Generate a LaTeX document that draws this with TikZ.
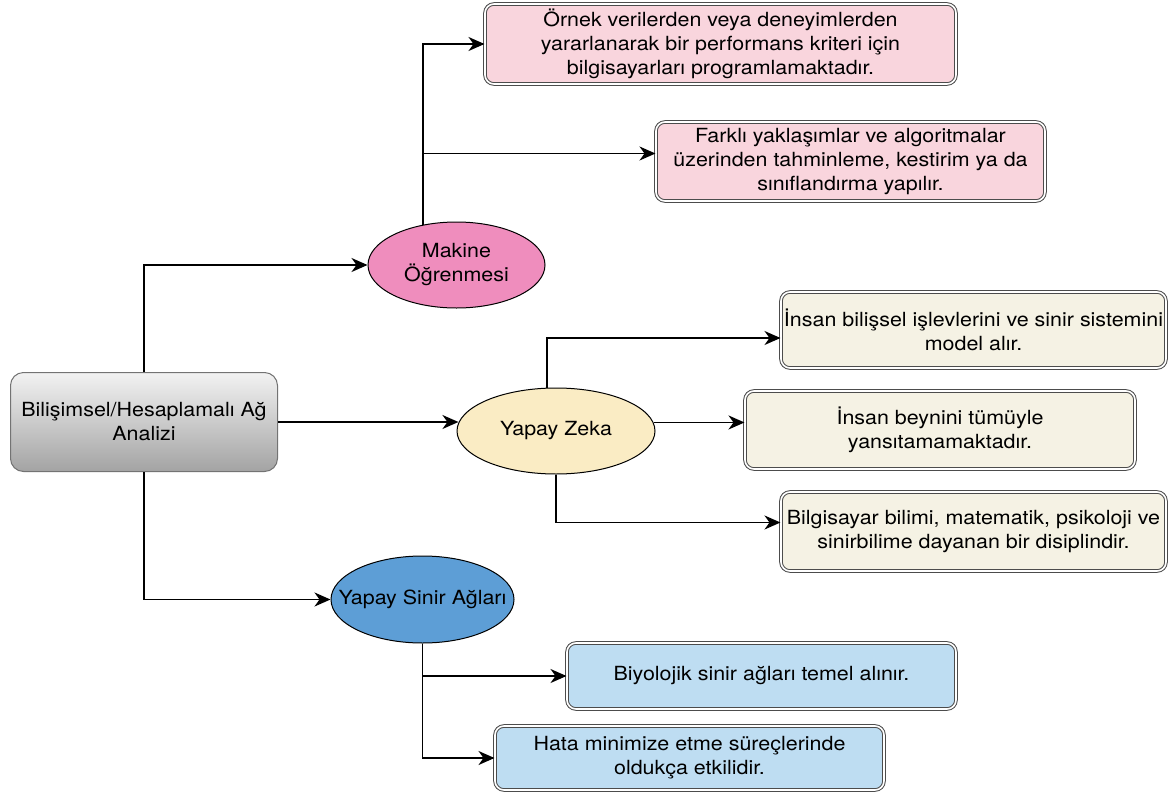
\documentclass[tikz,border=0pt]{standalone}
\usepackage{fontspec}
\setmainfont{TeX Gyre Heros}[FakeStretch=1.1]
\usetikzlibrary{arrows.meta,shapes.geometric}
\definecolor{pinkbox}{RGB}{249,213,221}
\definecolor{mkfill}{RGB}{239,141,189}
\definecolor{yzfill}{RGB}{250,236,196}
\definecolor{beige}{RGB}{245,242,228}
\definecolor{ysafill}{RGB}{93,158,214}
\definecolor{bluebox}{RGB}{190,221,242}
\newcommand\diagfs{\fontsize{19.5}{24}\selectfont}
\tikzset{
  box/.style={rectangle, rounded corners=9pt, draw=black!70, double=white,
    double distance=1.6pt, line width=1pt, align=center, inner sep=0pt, font=\diagfs},
  ell/.style={ellipse, draw=black, line width=1pt, align=center, inner sep=0pt, font=\diagfs},
  arr/.style={-{Stealth[length=16pt,width=14pt,inset=5pt]}, line width=1.6pt},
  con/.style={line width=1.6pt}
}
\begin{document}
\begin{tikzpicture}[x=1pt,y=-1pt]
\useasboundingbox (0,0) rectangle (1170,798);
% root
\node[rectangle, rounded corners=13pt, draw=black!55, line width=1pt,
  top color=black!5, bottom color=black!36, align=center, inner sep=0pt,
  font=\diagfs, minimum width=267pt, minimum height=99pt] (g) at (144,422)
  {Bilişimsel/Hesaplamalı Ağ\\Analizi};
% ellipses
\node[ell, fill=mkfill, minimum width=177pt, minimum height=86pt] (mk) at (456.5,265) {Makine\\Öğrenmesi};
\node[ell, fill=yzfill, minimum width=198pt, minimum height=86pt] (yz) at (556,431) {Yapay Zeka};
\node[ell, fill=ysafill, inner xsep=-30pt, minimum width=183pt, minimum height=87pt] (ysa) at (422.5,599.5) {Yapay Sinir Ağları};
% boxes
\node[box, fill=pinkbox, minimum width=471pt, minimum height=80pt] (p1) at (720.5,44)
  {Örnek verilerden veya deneyimlerden\\yararlanarak bir performans kriteri için\\bilgisayarları programlamaktadır.};
\node[box, fill=pinkbox, minimum width=389pt, minimum height=79pt] (p2) at (850.5,161.5)
  {Farklı yaklaşımlar ve algoritmalar\\üzerinden tahminleme, kestirim ya da\\sınıflandırma yapılır.};
\node[box, fill=beige, minimum width=385pt, minimum height=76pt] (b1) at (973.5,330)
  {İnsan bilişsel işlevlerini ve sinir sistemini\\model alır.};
\node[box, fill=beige, minimum width=390pt, minimum height=78pt] (b2) at (940,430)
  {İnsan beynini tümüyle\\yansıtamamaktadır.};
\node[box, fill=beige, minimum width=385pt, minimum height=79pt] (b3) at (973.5,531.5)
  {Bilgisayar bilimi, matematik, psikoloji ve\\sinirbilime dayanan bir disiplindir.};
\node[box, fill=bluebox, minimum width=389pt, minimum height=66pt] (bl1) at (761.5,676)
  {Biyolojik sinir ağları temel alınır.};
\node[box, fill=bluebox, minimum width=389pt, minimum height=64pt] (bl2) at (689.5,758)
  {Hata minimize etme süreçlerinde\\oldukça etkilidir.};
% connector end points
\coordinate (p2in) at ([yshift=8pt]p2.west);
\coordinate (b1in) at ([yshift=-8pt]b1.west);
\coordinate (b3in) at ([yshift=9pt]b3.west);
% connectors
\draw[arr] (g.north) |- (mk.west);
\draw[arr] (g.east) -- (g.east -| yz.175);
\draw[arr] (g.south) |- (ysa.west);
\draw[arr] (mk.130) |- (p1.west);
\draw[arr] (mk.130 |- p2in) -- (p2in);
\draw[arr] (yz.102) |- (b1in);
\draw[arr] (yz.5) -- (yz.5 -| b2.west);
\draw[arr] (yz.south) |- (b3in);
\draw[arr] (ysa.south) |- (bl2.west);
\draw[arr] (ysa.south |- bl1.west) -- (bl1.west);
\end{tikzpicture}
\end{document}
